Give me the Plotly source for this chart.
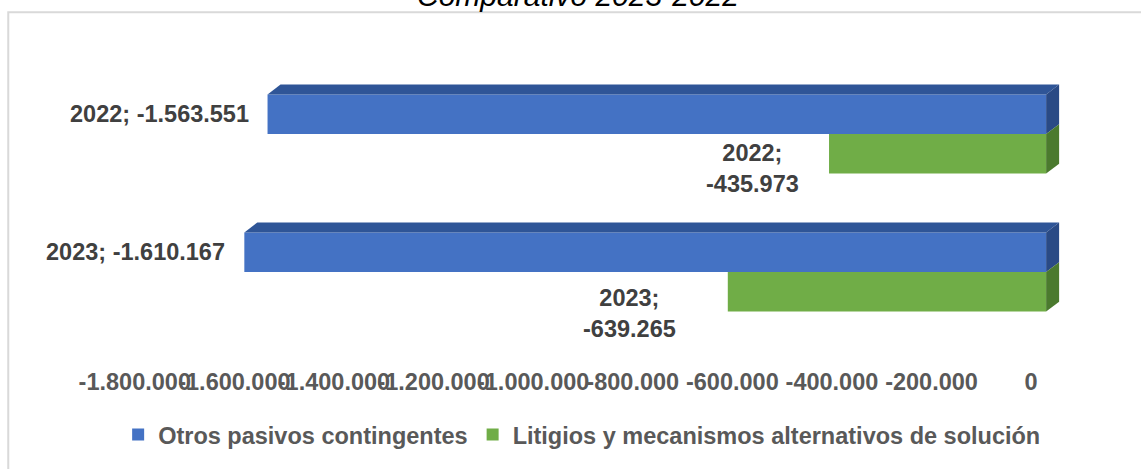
import plotly.graph_objects as go

# Comparativo 2023-2022 (valores negativos)
years = ["2022", "2023"]
otros_pasivos = [-1563551, -1610167]
litigios = [-435973, -639265]
series_names = ["Otros pasivos contingentes", "Litigios y mecanismos alternativos de solución"]
tick_values = [-1800000, -1600000, -1400000, -1200000, -1000000, -800000, -600000, -400000, -200000, 0]

BLUE, BLUE_TOP, BLUE_SIDE = "#4472C4", "#2F5597", "#2A4A85"
GREEN, GREEN_SIDE = "#70AD47", "#4B7A2E"
FONT = "Liberation Sans, Arial, sans-serif"


def fmt(v):
    return f"{v:,}".replace(",", ".")


pos = list(range(len(years)))
bargap = 0.426
bw = (1 - bargap) / 2
dx, dy = 26100, 0.071  # 3d depth offset (data units)

fig = go.Figure()
fig.add_bar(y=pos, x=otros_pasivos, orientation="h", name=series_names[0],
            marker=dict(color=BLUE, line=dict(width=0)))
fig.add_bar(y=pos, x=litigios, orientation="h", name=series_names[1],
            marker=dict(color=GREEN, line=dict(width=0)))

shapes = []
for i in pos:
    top = i - bw
    bot = i + bw
    # top face of blue bar
    v = otros_pasivos[i]
    shapes.append(dict(type="path", xref="x", yref="y", layer="above", line=dict(width=0),
                       fillcolor=BLUE_TOP,
                       path=f"M{v},{top} L{dx + v},{top - dy} L{dx},{top - dy} L0,{top} Z"))
    # side faces at zero
    shapes.append(dict(type="path", xref="x", yref="y", layer="above", line=dict(width=0),
                       fillcolor=BLUE_SIDE,
                       path=f"M0,{top} L{dx},{top - dy} L{dx},{i - dy} L0,{i} Z"))
    shapes.append(dict(type="path", xref="x", yref="y", layer="above", line=dict(width=0),
                       fillcolor=GREEN_SIDE,
                       path=f"M0,{i} L{dx},{i - dy} L{dx},{bot - dy} L0,{bot} Z"))

# chart border
shapes.append(dict(type="rect", xref="paper", yref="paper", x0=-0.094, x1=1.2, y0=-1, y1=1.191,
                   line=dict(color="#D9D9D9", width=2), fillcolor="rgba(0,0,0,0)", layer="below"))

annotations = []
for i in pos:
    annotations.append(dict(x=otros_pasivos[i], y=i - bw / 2, xref="x", yref="y",
                            text=f"{years[i]}; {fmt(otros_pasivos[i])}", showarrow=False,
                            xanchor="right", xshift=-17,
                            font=dict(family=FONT, size=23.5, color="#404040", weight="bold")))
green_shift = [(-28, -15), (-50, -22)]
for i in pos:
    annotations.append(dict(x=litigios[i], y=i + bw / 2, xref="x", yref="y",
                            text=f"{years[i]};<br>{fmt(litigios[i])}", showarrow=False,
                            xanchor="right", align="center",
                            xshift=green_shift[i][0], yshift=green_shift[i][1],
                            font=dict(family=FONT, size=23.5, color="#404040", weight="bold")))
annotations.append(dict(x=0.49, y=1.2305, xref="paper", yref="paper", text="<i>Comparativo 2023-2022</i>",
                        showarrow=False, xanchor="center", yanchor="middle", yshift=6,
                        font=dict(family=FONT, size=30, color="#000000")))

fig.update_layout(
    width=1141, height=469,
    margin=dict(l=100, r=65, t=65, b=122),
    paper_bgcolor="white", plot_bgcolor="white",
    barmode="group", bargap=bargap, bargroupgap=0,
    showlegend=True,
    legend=dict(orientation="h", x=0.494, xanchor="center", y=-0.34, yanchor="middle",
                font=dict(family=FONT, size=23.5, color="#595959", weight="bold"),
                itemwidth=30, traceorder="normal"),
    shapes=shapes, annotations=annotations,
    xaxis=dict(range=[-1900000, 60000], tickvals=tick_values, ticktext=[fmt(t) for t in tick_values],
               showgrid=False, zeroline=False, showline=False, ticks="", tickangle=0,
               ticklabelstandoff=24, ticklabelshift=-15,
               tickfont=dict(family=FONT, size=23.5, color="#595959", weight="bold")),
    yaxis=dict(range=[1.5, -0.5], showticklabels=False, showgrid=False, zeroline=False,
               showline=False, ticks=""),
)

fig.write_html("out.html", config={"displayModeBar": False},
               post_script="document.body.style.margin='0';")
